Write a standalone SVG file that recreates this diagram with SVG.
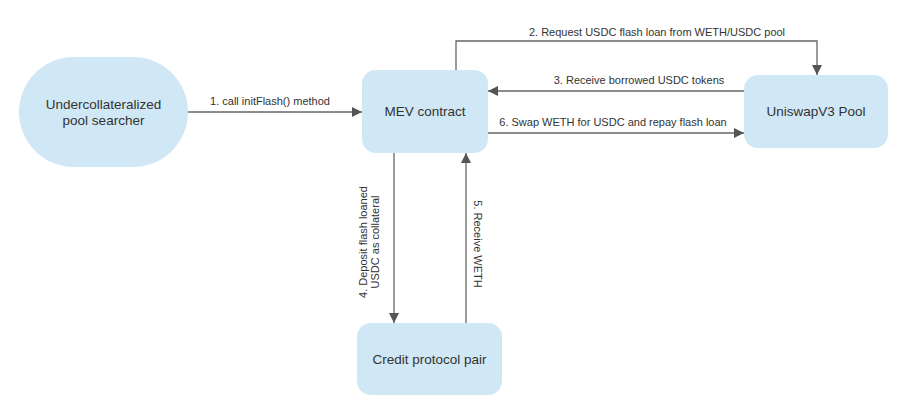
<svg xmlns="http://www.w3.org/2000/svg" width="903" height="411" viewBox="0 0 903 411">
<defs>
<marker id="ah" viewBox="0 0 10 10" refX="10" refY="5" markerWidth="10" markerHeight="10" markerUnits="userSpaceOnUse" orient="auto">
<path d="M0,0 L10,5 L0,10 z" fill="#555"/>
</marker>
<style>
.node{fill:#d0e7f5;}
.nt{font-family:"Liberation Sans",Arial,sans-serif;font-size:13.5px;fill:#333;text-anchor:middle;}
.lt{font-family:"Liberation Sans",Arial,sans-serif;font-size:11px;fill:#333;text-anchor:middle;}
.ln{fill:none;stroke:#666;stroke-width:1.3;marker-end:url(#ah);}
</style>
</defs>
<rect width="903" height="411" fill="#fff"/>
<g id="searcher">
<rect class="node" x="19" y="57" width="169" height="110" rx="55" ry="55"/>
<text class="nt" x="103.5" y="109">Undercollateralized</text>
<text class="nt" x="103.5" y="125">pool searcher</text>
</g>
<g id="mev">
<rect class="node" x="362" y="70" width="126" height="83" rx="14" ry="14"/>
<text class="nt" x="425" y="116">MEV contract</text>
</g>
<g id="uniswap">
<rect class="node" x="744" y="75" width="144" height="73" rx="14" ry="14"/>
<text class="nt" x="816" y="116">UniswapV3 Pool</text>
</g>
<g id="credit">
<rect class="node" x="357" y="323" width="145" height="72" rx="14" ry="14"/>
<text class="nt" x="429.5" y="364">Credit protocol pair</text>
</g>
<g id="connectors">
<path class="ln" d="M188,112 L362,112"/>
<text class="lt" x="270" y="105">1. call initFlash() method</text>
<path class="ln" d="M456,70 L456,41 L817,41 L817,75"/>
<text class="lt" x="657" y="36">2. Request USDC flash loan from WETH/USDC pool</text>
<path class="ln" d="M744,91 L488,91"/>
<text class="lt" x="639" y="84">3. Receive borrowed USDC tokens</text>
<path class="ln" d="M488,133 L744,133"/>
<text class="lt" x="613" y="126">6. Swap WETH for USDC and repay flash loan</text>
<path class="ln" d="M394,153 L394,323"/>
<text class="lt" transform="translate(367,242) rotate(-90)" x="0" y="0">4. Deposit flash loaned</text>
<text class="lt" transform="translate(379,242) rotate(-90)" x="0" y="0">USDC as collateral</text>
<path class="ln" d="M466,323 L466,153"/>
<text class="lt" transform="translate(474,244) rotate(90)" x="0" y="0">5. Receive WETH</text>
</g>
</svg>
